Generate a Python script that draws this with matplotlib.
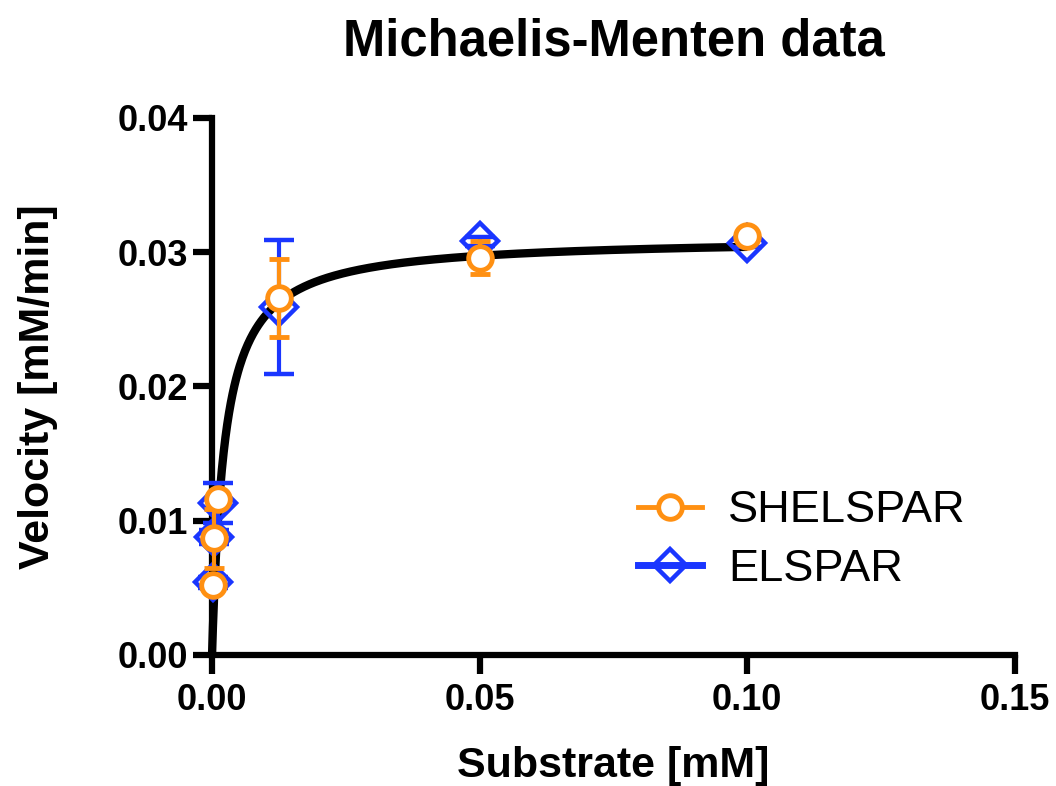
import numpy as np
import matplotlib
matplotlib.use("Agg")
import matplotlib.pyplot as plt

# Substrate concentrations [mM]
substrate = [0.0001, 0.0003, 0.0011, 0.0125, 0.05, 0.10]

# Measured velocities [mM/min] and their error bars
shelspar_v = [0.0052, 0.0087, 0.0116, 0.0266, 0.0296, 0.0312]
shelspar_err = [0.0004, 0.0022, 0.0004, 0.0029, 0.0012, 0.0004]
elspar_v = [0.0054, 0.0088, 0.0113, 0.0259, 0.0308, 0.0307]
elspar_err = [0.0004, 0.0005, 0.0015, 0.0050, 0.0003, 0.0003]

# Michaelis-Menten fit parameters
vmax = 0.0311
km = 0.0023

orange = "#FF9012"
blue = "#1A36FF"

plt.rcParams["font.family"] = ["Liberation Sans", "DejaVu Sans"]

fig = plt.figure(figsize=(10.56, 7.86), dpi=100)
ax = fig.add_axes([0.2008, 0.1667, 0.7603, 0.6832])

xs = np.linspace(0, 0.10, 600)
ax.plot(xs, vmax * xs / (km + xs), color="black", lw=6, zorder=2,
        solid_capstyle="butt", clip_on=False)

ax.errorbar(substrate, elspar_v, yerr=elspar_err, fmt="D", color=blue,
            ms=18, mew=3.2, mfc="none", mec=blue, elinewidth=3, capsize=11,
            capthick=3, zorder=3, clip_on=False)
ax.errorbar(substrate, shelspar_v, yerr=shelspar_err, fmt="o", color=orange,
            ms=17, mew=3.5, mfc="white", mec=orange, elinewidth=3, capsize=7,
            capthick=3, zorder=4, clip_on=False)

# Legend handles
h1, = ax.plot([], [], color=orange, lw=3.5, marker="o", ms=17, mew=3.5,
              mfc="white", mec=orange)
h2, = ax.plot([], [], color=blue, lw=5, marker="D", ms=16, mew=3.2,
              mfc="none", mec=blue)
leg = ax.legend([h1, h2], ["SHELSPAR", "ELSPAR"], loc="center left",
                bbox_to_anchor=(0.5305, 0.214), frameon=False, fontsize=32.5,
                handlelength=1.42, handletextpad=0.58, labelspacing=0.38,
                borderpad=0, borderaxespad=0)

ax.set_xlim(0, 0.15)
ax.set_ylim(0, 0.04)
ax.set_xticks([0.0, 0.05, 0.10, 0.15])
ax.set_xticklabels(["0.00", "0.05", "0.10", "0.15"])
ax.set_yticks([0.0, 0.01, 0.02, 0.03, 0.04])
ax.set_yticklabels(["0.00", "0.01", "0.02", "0.03", "0.04"])

for side in ("top", "right"):
    ax.spines[side].set_visible(False)
for side in ("left", "bottom"):
    ax.spines[side].set_linewidth(4.5)
    ax.spines[side].set_capstyle("projecting")

ax.tick_params(axis="both", direction="out", length=13.5, width=4.5,
               labelsize=26)
ax.tick_params(axis="x", pad=7)
ax.tick_params(axis="y", pad=3.5)
for lab in ax.get_xticklabels() + ax.get_yticklabels():
    lab.set_fontweight("bold")

ax.set_xlabel("Substrate [mM]", fontsize=31, fontweight="bold", labelpad=20)
ax.set_ylabel("Velocity [mM/min]", fontsize=31, fontweight="bold", labelpad=43)
ax.set_title("Michaelis-Menten data", fontsize=36.5, fontweight="bold", pad=45)

fig.savefig("out.png", dpi=100)
